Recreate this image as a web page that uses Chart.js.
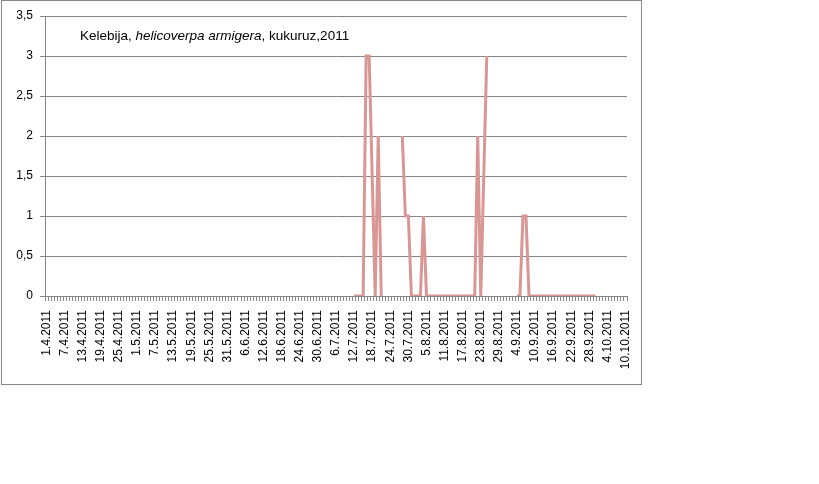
<!DOCTYPE html>
<html>
<head>
<meta charset="utf-8">
<script src="https://cdn.jsdelivr.net/npm/chart.js@4/dist/chart.umd.min.js"></script>
<style>
  body { margin: 0; background: #fff; }
</style>
</head>
<body>
<canvas id="myChart" width="819" height="484"></canvas>
<script>
// daily categories 1.4.2011 - 10.10.2011
const dates = [];
for (let i = 0; i < 193; i++) {
    const d = new Date(Date.UTC(2011, 3, 1 + i));
    dates.push(d.getUTCDate() + '.' + (d.getUTCMonth() + 1) + '.' + d.getUTCFullYear());
}

const yTicks = [0, 0.5, 1, 1.5, 2, 2.5, 3, 3.5];

// catches from 12.7.2011 (index 102) to 30.9.2011
// null = empty cell (line broken), NA = not read (line connected over it)
const NA = 'NA';
const firstDay = 102;
const counts = [
    0, 0, 0, 0, 3, 3, NA, 0, 2, 0,
    null, null, null, null, null, null,
    2, 1, 1, 0, 0, 0, 0, 1,
    0, 0, 0, 0, 0, 0, 0, 0, 0, 0, 0, 0, 0, 0, 0, 0, 0,
    2, 0, NA, 3,
    null, null, null, null, null, null, null, null, null,
    0, 0, 1, 1,
    0, 0, 0, 0, 0, 0, 0, 0, 0, 0, 0, 0, 0, 0, 0, 0, 0, 0, 0, 0, 0, 0, 0
];

const points = [];
counts.forEach((v, k) => {
    if (v !== NA) points.push({ x: dates[firstDay + k], y: v });
});

const gray = '#868686';
const tickFont = { family: 'Liberation Sans', size: 12 };

// outer frame + mixed italic title
const framePlugin = {
    id: 'frame',
    beforeDraw(chart) {
        const c = chart.ctx;
        c.save();
        c.fillStyle = '#fff';
        c.fillRect(0, 0, chart.width, chart.height);
        c.restore();
    },
    afterDraw(chart) {
        const c = chart.ctx;
        c.save();
        c.strokeStyle = gray;
        c.lineWidth = 1;
        c.strokeRect(1.5, 0.5, 640, 384);

        const parts = [
            ['Kelebija, ', ''],
            ['helicoverpa armigera', 'italic '],
            [', kukuruz,2011', '']
        ];
        let x = 80;
        c.fillStyle = '#000';
        c.textBaseline = 'alphabetic';
        parts.forEach(p => {
            c.font = p[1] + '13.5px "Liberation Sans"';
            c.fillText(p[0], x, 40);
            x += c.measureText(p[0]).width;
        });
        c.restore();
    }
};

const config = {
    type: 'line',
    data: {
        labels: dates,
        datasets: [{
            label: 'Kelebija',
            data: points,
            borderColor: '#D99694',
            borderWidth: 3,
            pointRadius: 0,
            tension: 0,
            fill: false
        }]
    },
    options: {
        responsive: false,
        animation: false,
        layout: { padding: { left: 0, top: 16, right: 192, bottom: 0 } },
        plugins: {
            legend: { display: false },
            title: { display: false },
            tooltip: { enabled: false }
        },
        scales: {
            x: {
                type: 'category',
                offset: true,
                grid: {
                    drawOnChartArea: false,
                    drawTicks: true,
                    tickLength: 5,
                    color: gray,
                    offset: true
                },
                border: { color: gray },
                ticks: {
                    autoSkip: false,
                    maxRotation: 90,
                    minRotation: 90,
                    padding: 9,
                    color: '#000',
                    font: tickFont,
                    callback: (v, i) => (i % 6 === 0 ? dates[i] : '')
                },
                afterFit: s => { s.height = 188; }
            },
            y: {
                min: 0,
                max: 3.5,
                afterBuildTicks: s => { s.ticks = yTicks.map(v => ({ value: v })); },
                grid: { color: gray, tickLength: 5 },
                border: { color: gray },
                ticks: {
                    padding: 7,
                    color: '#000',
                    font: tickFont,
                    callback: v => String(v).replace('.', ',')
                },
                afterFit: s => { s.width = 45; }
            }
        }
    },
    plugins: [framePlugin]
};

let myChart = new Chart(document.getElementById('myChart'), config);
</script>
</body>
</html>
